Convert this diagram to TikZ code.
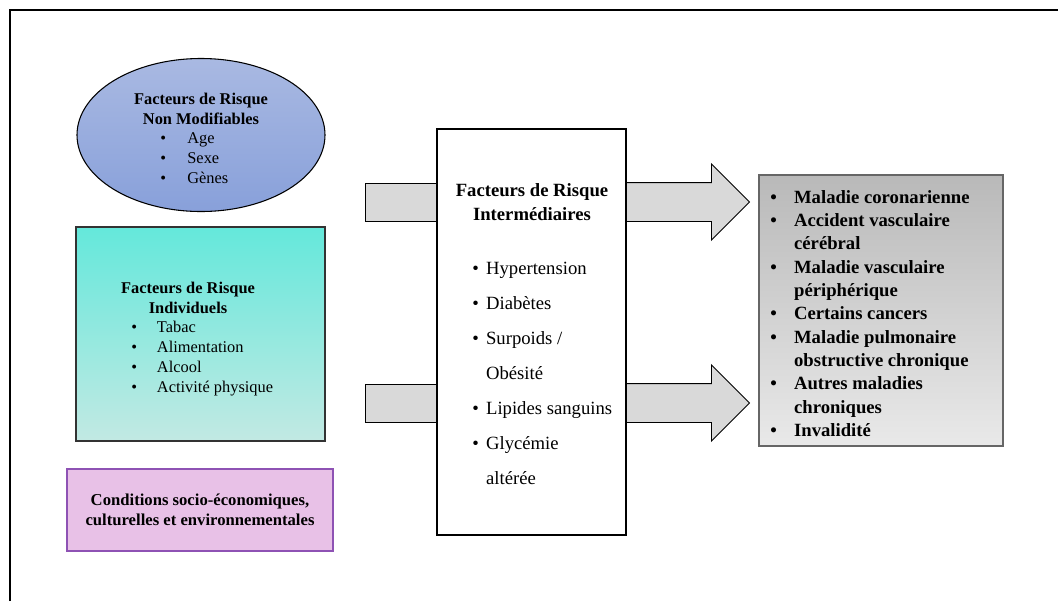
\documentclass[tikz,border=0pt]{standalone}
\usepackage{fontspec}
\setmainfont{Liberation Serif}
\usetikzlibrary{shapes.geometric,shapes.arrows}

\definecolor{ellTop}{HTML}{A9B9E2}
\definecolor{ellBot}{HTML}{88A0DA}
\definecolor{tealTop}{HTML}{64E8DB}
\definecolor{tealBot}{HTML}{C2E9E3}
\definecolor{pinkFill}{HTML}{E8C1E7}
\definecolor{pinkLine}{HTML}{8E52B4}
\definecolor{greyTop}{HTML}{B9B9B9}
\definecolor{greyBot}{HTML}{E9E9E9}
\definecolor{arrFill}{HTML}{D9D9D9}

\begin{document}
\begin{tikzpicture}[x=0.75pt,y=-0.75pt,
              small text/.style={font=\fontsize{12.3}{15}\selectfont},
              big text/.style={font=\fontsize{14}{17.5}\selectfont},
              risk box/.style={rectangle,draw,line width=0.8pt,inner sep=0pt},
              bar/.style={rectangle,draw,line width=0.7pt,fill=arrFill,
                minimum width=54pt,minimum height=28.5pt,inner sep=0pt},
              big arrow/.style={single arrow,draw,line width=0.7pt,fill=arrFill,
                inner sep=0pt,minimum height=92.25pt,minimum width=56.25pt,
                single arrow head extend=13.875pt,single arrow tip angle=90}]

            \useasboundingbox (0,0) rectangle (1058,601);
            \draw[line width=1.2pt] (10,601) -- (10,10) -- (1058,10);

            % arrows first, boxes on top
            \node[bar] (inTop) at (401,202) {};
            \node[bar] (inBot) at (401,403) {};
            \node[big arrow,anchor=tail] (outTop) at (626,202) {\rule{0pt}{28.5pt}};
            \node[big arrow,anchor=tail] (outBot) at (626,403) {\rule{0pt}{28.5pt}};

            \node[ellipse,draw,line width=0.8pt,top color=ellTop,bottom color=ellBot,
                  minimum width=186pt,minimum height=114.75pt,inner sep=0pt] (NM) at (201,135) {};
            \node[small text,align=center] (NMt) at (201,141)
              {\textbf{Facteurs de Risque}\\\textbf{Non Modifiables}\\[-1pt]
               \begin{tabular}[t]{@{}l@{\hspace{16pt}}l@{\hspace{10pt}}}
               \textbullet & Age\\ \textbullet & Sexe\\ \textbullet & Gènes
               \end{tabular}};

            \node[risk box,draw=black!80,top color=tealTop,bottom color=tealBot,
                  minimum width=186.75pt,minimum height=160.5pt] (IND) at (200.5,334) {};
            \node[small text,align=center] (INDt) at (188,298)
              {\textbf{Facteurs de Risque}\\\textbf{Individuels}};
            \node[small text,anchor=west,inner sep=0pt] (INDl) at (131,358)
              {\begin{tabular}{@{}l@{\hspace{15pt}}l@{}}
               \textbullet & Tabac\\ \textbullet & Alimentation\\
               \textbullet & Alcool\\ \textbullet & Activité physique
               \end{tabular}};

            \node[risk box,draw=pinkLine,fill=pinkFill,minimum width=199.5pt,
                  minimum height=61.5pt,small text,align=center,
                  font=\fontsize{12.5}{15}\selectfont\bfseries] (SOC) at (200,510)
              {Conditions socio-économiques,\\culturelles et environnementales};

            \node[risk box,fill=white,minimum width=141.75pt,minimum height=304.5pt] (INT) at (531.5,332) {};
            \node[big text,align=center] (INTt) at (532,202)
              {\textbf{Facteurs de Risque}\\\textbf{Intermédiaires}};
            \node[big text,anchor=west,inner sep=0pt] (INTl) at (472,372)
              {\renewcommand{\arraystretch}{1.5}%
               \begin{tabular}{@{}l@{\hspace{5.5pt}}l@{}}
               \textbullet & Hypertension\\ \textbullet & Diabètes\\
               \textbullet & Surpoids /\\ & Obésité\\
               \textbullet & Lipides sanguins\\ \textbullet & Glycémie\\ & altérée
               \end{tabular}};

            \node[risk box,draw=black!60,top color=greyTop,bottom color=greyBot,
                  minimum width=183pt,minimum height=203.25pt] (OUT) at (881,310.5) {};
            \node[big text,anchor=west,inner sep=0pt,font=\fontsize{14}{17.5}\selectfont\bfseries] (OUTl) at (770,315)
              {\begin{tabular}{@{}l@{\hspace{13pt}}l@{}}
               \textbullet & Maladie coronarienne\\
               \textbullet & Accident vasculaire\\ & cérébral\\
               \textbullet & Maladie vasculaire\\ & périphérique\\
               \textbullet & Certains cancers\\
               \textbullet & Maladie pulmonaire\\ & obstructive chronique\\
               \textbullet & Autres maladies\\ & chroniques\\
               \textbullet & Invalidité
               \end{tabular}};
          \end{tikzpicture}
\end{document}
